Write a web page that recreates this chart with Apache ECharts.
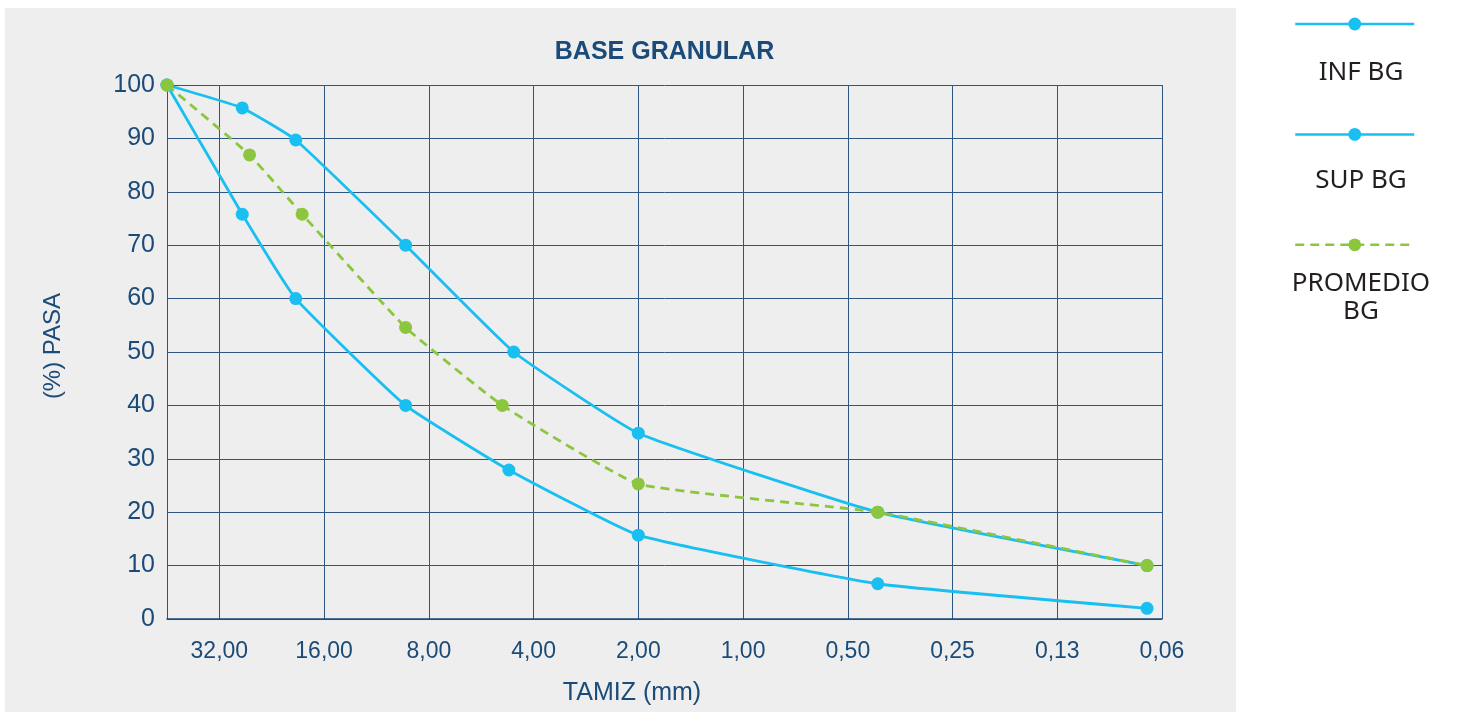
<!DOCTYPE html>
<html><head><meta charset="utf-8">
<script src="https://cdn.jsdelivr.net/npm/echarts@6/dist/echarts.min.js"></script>
<style>html,body{margin:0;padding:0;background:#fff;} #c{width:1459px;height:712px;}</style>
</head><body><div id="c"></div>
<script>
const chartTitle = 'BASE GRANULAR';
const xName = 'TAMIZ (mm)';
const yName = '(%) PASA';
const seriesNames = ['INF BG', 'SUP BG', 'PROMEDIO BG'];
const legendLabels = ['INF BG', 'SUP BG', 'PROMEDIO\nBG'];
// sieve openings (mm)
const sizesInf  = [45.25, 27.5, 19.3, 9.33, 4.71, 2.0, 0.41, 0.069];
const sizesSup  = [45.25, 27.5, 19.3, 9.33, 4.56, 2.0, 0.41, 0.069];
const sizesProm = [45.25, 26.2, 18.5, 9.33, 4.92, 2.0, 0.41, 0.069];
// % passing
const passInf  = [100, 75.8, 60, 40, 27.9, 15.7, 6.6, 2.0];
const passSup  = [100, 95.7, 89.7, 70, 50, 34.8, 20, 10];
const passProm = [100, 86.9, 75.8, 54.6, 40, 25.3, 20, 10];
// axis ranges
const xMin = 0.0625, xMax = 45.25;
const yMin = 0, yMax = 100, yStep = 10;

const BLUE = '#19bff0', GREEN = '#8cc63f', NAVY = '#1b4b78', GRID = '#2d5682';

function pts(xs, ys) { return xs.map((x, i) => [x, ys[i]]); }
function lineSeries(name, data, color, dashed, z) {
  return {
    type: 'line', name: name, data: data, z: z,
    symbol: 'circle', symbolSize: 13, smooth: 0.12, clip: false,
    lineStyle: { color: color, width: 2.8, type: dashed ? [9, 6] : 'solid' },
    itemStyle: { color: color },
    emphasis: { disabled: true }
  };
}

const chart = echarts.init(document.getElementById('c'), null, { renderer: 'canvas' });
chart.setOption({
  animation: false,
  backgroundColor: '#ffffff',
  title: {
    text: chartTitle, left: 664.5, top: 40, textAlign: 'center', padding: 0,
    textStyle: { fontFamily: 'Liberation Sans', fontWeight: 'bold', fontSize: 25, color: NAVY }
  },
  grid: { left: 167, right: 297, top: 85, bottom: 93, containLabel: false },
  xAxis: {
    type: 'log', logBase: 2, inverse: true, min: xMin, max: xMax, interval: 1,
    name: xName, nameLocation: 'middle', nameGap: 62,
    nameTextStyle: { fontFamily: 'Liberation Sans', fontSize: 25, color: NAVY, padding: [0, 65, 0, 0] },
    axisLine: { show: true, lineStyle: { color: NAVY, width: 1.5 } },
    axisTick: { show: false },
    axisLabel: {
      show: true, margin: 21, showMaxLabel: false, showMinLabel: true,
      fontFamily: 'Liberation Sans', fontSize: 23, color: NAVY,
      formatter: v => Number(v).toFixed(2).replace('.', ',')
    },
    splitLine: { show: true, lineStyle: { color: GRID, width: 1 } }
  },
  yAxis: {
    type: 'value', min: yMin, max: yMax, interval: yStep,
    name: yName, nameLocation: 'middle', nameGap: 102,
    nameTextStyle: { fontFamily: 'Liberation Sans', fontSize: 24, color: NAVY, padding: [0, 0, 0, 12] },
    axisLine: { show: true, lineStyle: { color: GRID, width: 1 } },
    axisTick: { show: false },
    axisLabel: { margin: 12, fontFamily: 'Liberation Sans', fontSize: 25, color: NAVY },
    splitLine: { show: true, lineStyle: { color: GRID, width: 1 } }
  },
  legend: {
    orient: 'vertical', left: 1289, top: 11, itemWidth: 119, itemHeight: 16, itemGap: 96,
    data: seriesNames, selectedMode: false, formatter: () => '',
    textStyle: { fontSize: 1 }, lineStyle: { width: 2.5 }
  },
  graphic: {
    elements: [
      { type: 'rect', z: -100, silent: true, shape: { x: 5, y: 8, width: 1231, height: 704 }, style: { fill: '#eeeeee' } }
    ].concat(legendLabels.map((t, i) => ({
      type: 'text', silent: true, x: 1361, y: [73, 181, 298][i],
      style: {
        text: t, textAlign: 'center', textVerticalAlign: 'middle',
        fontFamily: 'Noto Sans', fontSize: 26, lineHeight: 28, fill: '#231f20'
      }
    })))
  },
  series: [
    lineSeries(seriesNames[0], pts(sizesInf, passInf), BLUE, false, 2),
    lineSeries(seriesNames[1], pts(sizesSup, passSup), BLUE, false, 3),
    lineSeries(seriesNames[2], pts(sizesProm, passProm), GREEN, true, 4)
  ]
});
</script>
</body></html>
